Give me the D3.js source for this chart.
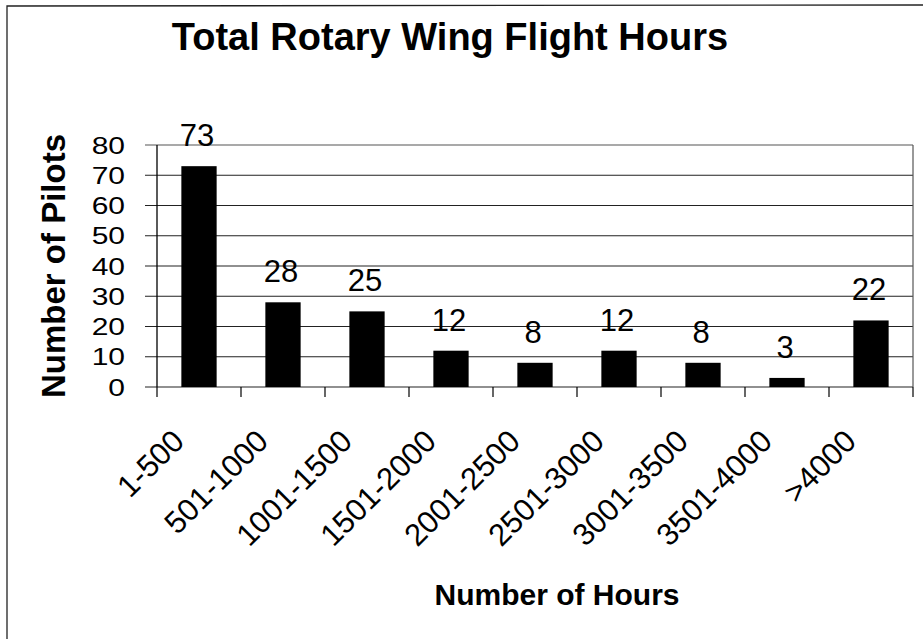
<!DOCTYPE html>
<html>
<head>
<meta charset="utf-8">
<script src="https://cdnjs.cloudflare.com/ajax/libs/d3/7.8.5/d3.min.js"></script>
<style>
    html, body { margin: 0; padding: 0; background: #fff; }
    svg { display: block; font-family: "Liberation Sans", Arial, sans-serif; }
</style>
</head>
<body>
<svg id="chart" width="923" height="639"></svg>
<script>
    // chart data
    var categories = ["1-500", "501-1000", "1001-1500", "1501-2000", "2001-2500",
        "2501-3000", "3001-3500", "3501-4000", ">4000"];
    var pilots = [73, 28, 25, 12, 8, 12, 8, 3, 22];
    var yTicks = [0, 10, 20, 30, 40, 50, 60, 70, 80];

    var svg = d3.select("svg#chart"),
        margin = {top: 145, right: 10, bottom: 252, left: 157},
        width = +svg.attr("width") - margin.left - margin.right,
        height = +svg.attr("height") - margin.top - margin.bottom;

    // outer frame (scanned page only shows top and left edges)
    svg.append("path")
        .attr("d", "M7,639 L7,6 L923,5")
        .attr("fill", "none")
        .attr("stroke", "#222")
        .attr("stroke-width", 1.3);

    svg.append("text")
        .attr("x", 450)
        .attr("y", 50)
        .attr("text-anchor", "middle")
        .style("font-size", "38px")
        .style("font-weight", "bold")
        .text("Total Rotary Wing Flight Hours");

    var g = svg.append("g").attr("transform", "translate(" + margin.left + "," + margin.top + ")");

    var x = d3.scaleBand()
        .domain(categories)
        .range([0, width])
        .paddingInner(0.58)
        .paddingOuter(0.29);

    var y = d3.scaleLinear()
        .domain([0, 80])
        .range([height, 0]);

    // gridlines, extended left of the axis as tick marks
    g.selectAll(".grid")
        .data(yTicks)
        .enter().append("line")
        .attr("class", "grid")
        .attr("x1", -12)
        .attr("x2", width)
        .attr("y1", function (d) { return y(d); })
        .attr("y2", function (d) { return y(d); })
        .attr("stroke", function (d) { return d === 80 ? "#555" : "#222"; })
        .attr("stroke-width", 1.2);

    // right border of plot area
    g.append("line")
        .attr("x1", width).attr("x2", width)
        .attr("y1", 0).attr("y2", height)
        .attr("stroke", "#555")
        .attr("stroke-width", 1.2);

    // y axis line
    g.append("line")
        .attr("x1", 0).attr("x2", 0)
        .attr("y1", 0).attr("y2", height)
        .attr("stroke", "#000")
        .attr("stroke-width", 1.3);

    // y tick labels
    g.selectAll(".ylab")
        .data(yTicks)
        .enter().append("text")
        .attr("class", "ylab")
        .attr("transform", function (d) { return "translate(-32," + y(d) + ") scale(1.25,1)"; })
        .attr("text-anchor", "end")
        .attr("dy", "0.36em")
        .style("font-size", "24px")
        .text(function (d) { return d; });

    // x ticks between categories
    var bounds = d3.range(categories.length + 1).map(function (i) { return i * x.step(); });
    g.selectAll(".xtick")
        .data(bounds)
        .enter().append("line")
        .attr("class", "xtick")
        .attr("x1", function (d) { return d; })
        .attr("x2", function (d) { return d; })
        .attr("y1", height)
        .attr("y2", height + 10)
        .attr("stroke", "#000")
        .attr("stroke-width", 1.2);

    // bars
    g.selectAll(".bar")
        .data(pilots)
        .enter().append("rect")
        .attr("class", "bar")
        .attr("x", function (d, i) { return x(categories[i]); })
        .attr("y", function (d) { return y(d); })
        .attr("width", x.bandwidth())
        .attr("height", function (d) { return height - y(d); })
        .attr("fill", "#000");

    // value labels
    g.selectAll(".val")
        .data(pilots)
        .enter().append("text")
        .attr("class", "val")
        .attr("x", function (d, i) { return x(categories[i]) + x.bandwidth() / 2 - 2; })
        .attr("y", function (d) { return y(d) - 20; })
        .attr("text-anchor", "middle")
        .style("font-size", "31px")
        .text(function (d) { return d; });

    // category labels
    g.selectAll(".xlab")
        .data(categories)
        .enter().append("text")
        .attr("class", "xlab")
        .attr("transform", function (d) {
            return "translate(" + (x(d) + x.bandwidth() / 2 - 13) + "," + (height + 56) + ") rotate(-45)";
        })
        .attr("text-anchor", "end")
        .style("font-size", "31px")
        .text(function (d) { return d; });

    // axis titles
    svg.append("text")
        .attr("x", 557)
        .attr("y", 605)
        .attr("text-anchor", "middle")
        .style("font-size", "30px")
        .style("font-weight", "bold")
        .text("Number of Hours");

    svg.append("text")
        .attr("transform", "translate(65,266) rotate(-90)")
        .attr("text-anchor", "middle")
        .style("font-size", "33px")
        .style("font-weight", "bold")
        .text("Number of Pilots");
</script>
</body>
</html>
